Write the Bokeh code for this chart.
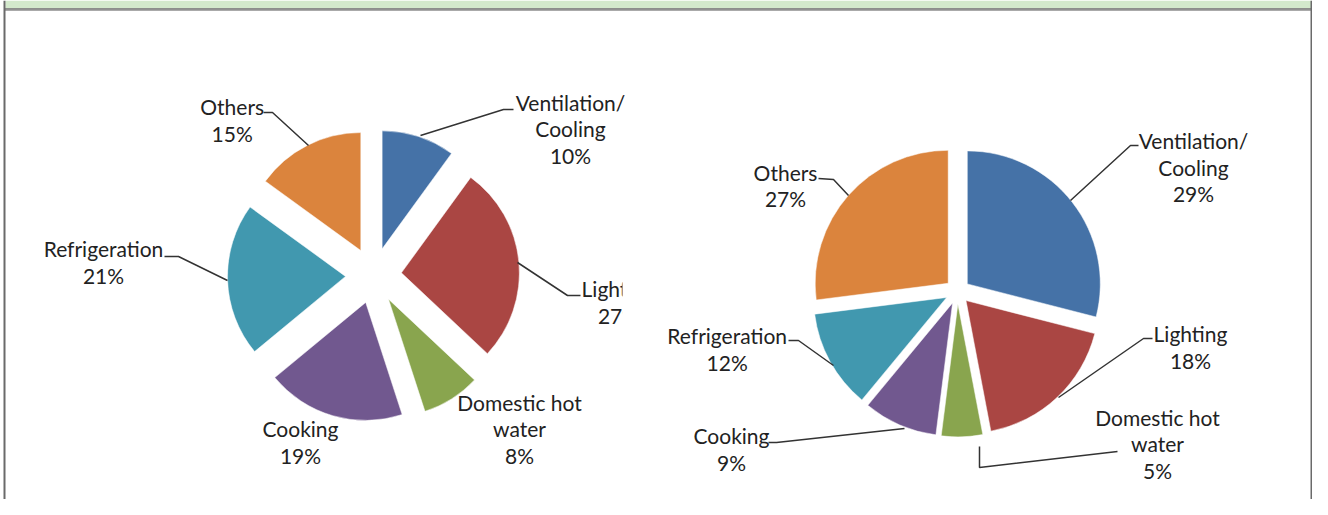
import math
from bokeh.plotting import figure
from bokeh.models import Range1d, ColumnDataSource
from bokeh.core.properties import value
from bokeh.embed import file_html
from bokeh.resources import INLINE

# ---------------- data ----------------
categories = ["Ventilation/Cooling", "Lighting", "Domestic hot water",
              "Cooking", "Refrigeration", "Others"]
label_lines = [["Ventilation/", "Cooling"], ["Lighting"], ["Domestic hot", "water"],
               ["Cooking"], ["Refrigeration"], ["Others"]]
left_values = [10, 27, 8, 19, 21, 15]
right_values = [29, 18, 5, 9, 12, 27]
colors = ["#4572A7", "#AA4643", "#89A54E", "#71588F", "#4198AF", "#DB843D"]

# ---------------- layout (picture pixel coordinates) ----------------
PAGE_H = 515
FONT = "Lato"
FS = "21px"
LINE_H = 26.7
TXT = "#222222"
LEAD = "#333333"

left_pie = dict(cx=373, cy=275, r=118, d=28)
right_pie = dict(cx=957, cy=291, r=133, d=12.4)

left_label_pos = [(570, 101.7), (618, 288.3), (519, 401.7), (300, 428.3), (103, 248), (231.7, 106)]
right_label_pos = [(1193, 140), (1190, 333.3), (1157, 416.7), (731, 435), (726.7, 335), (785, 171.7)]

left_leaders = [
    [(513, 109), (503, 109), (420, 135)],
    [(580, 295), (567, 295), (517, 262)],
    None,
    None,
    [(164, 256), (178, 256), (227, 280)],
    [(263, 112), (272, 112), (308, 145)],
]
right_leaders = [
    [(1138, 145), (1130, 145), (1070, 200)],
    [(1152, 338), (1143, 338), (1058, 397)],
    [(1117, 451), (979, 467), (979, 446)],
    [(768, 442), (776, 442), (904, 428)],
    [(788, 340), (798, 340), (833, 365)],
    [(818, 178), (833, 179), (848, 195)],
]


def Y(y):
    return PAGE_H - y


p = figure(width=1312, height=499, x_range=Range1d(0, 1312), y_range=Range1d(16, 515),
           output_backend="svg", toolbar_location=None, min_border=0)
p.axis.visible = False
p.grid.visible = False
p.outline_line_color = None
p.background_fill_color = "white"
p.border_fill_color = "white"

# frame: green header band, grey rule, side borders
p.quad(left=5, right=1312, bottom=Y(8), top=Y(0), fill_color="#D3E9CC", line_color=None)
p.line(x=[4, 1312], y=[Y(8.5), Y(8.5)], line_color="#6e6e6e", line_width=1.5)
p.line(x=[4, 1312], y=[Y(10), Y(10)], line_color="#aaaaaa", line_width=1)
p.line(x=[4, 4], y=[Y(0), Y(515)], line_color="#6a6a6a", line_width=2)
p.line(x=[1311, 1311], y=[Y(0), Y(515)], line_color="#6a6a6a", line_width=2)


def draw_pie(vals, geo, label_pos, leaders):
    total = float(sum(vals))
    xs, ys, sa, ea = [], [], [], []
    acc = 0.0
    for v in vals:
        a0 = acc / total * 360.0
        a1 = (acc + v) / total * 360.0
        acc += v
        b = math.radians((a0 + a1) / 2)
        xs.append(geo["cx"] + geo["d"] * math.sin(b))
        ys.append(Y(geo["cy"]) + geo["d"] * math.cos(b))
        sa.append(math.radians(90 - a0))
        ea.append(math.radians(90 - a1))
    src = ColumnDataSource(dict(x=xs, y=ys, sa=sa, ea=ea, color=colors, cat=categories))
    p.wedge(x="x", y="y", radius=geo["r"], start_angle="sa", end_angle="ea",
            direction="clock", fill_color="color", line_color="white", line_width=0.5,
            source=src)
    for pts in leaders:
        if pts is None:
            continue
        p.line(x=[q[0] for q in pts], y=[Y(q[1]) for q in pts], line_color=LEAD, line_width=1.5)
    tx, ty, tt = [], [], []
    for lines, v, (lx, ly) in zip(label_lines, vals, label_pos):
        for k, s in enumerate(lines + [f"{v}%"]):
            tx.append(lx)
            ty.append(Y(ly + k * LINE_H))
            tt.append(s)
    p.text(x=tx, y=ty, text=tt, text_font=value(FONT), text_font_size=FS,
           text_align="center", text_baseline="middle", text_color=TXT)


draw_pie(left_values, left_pie, left_label_pos, left_leaders)
# the left chart image is cropped at its right edge
p.quad(left=622, right=675, bottom=Y(332), top=Y(272), fill_color="white", line_color=None)
draw_pie(right_values, right_pie, right_label_pos, right_leaders)

open("out.html", "w").write(file_html(p, INLINE))
